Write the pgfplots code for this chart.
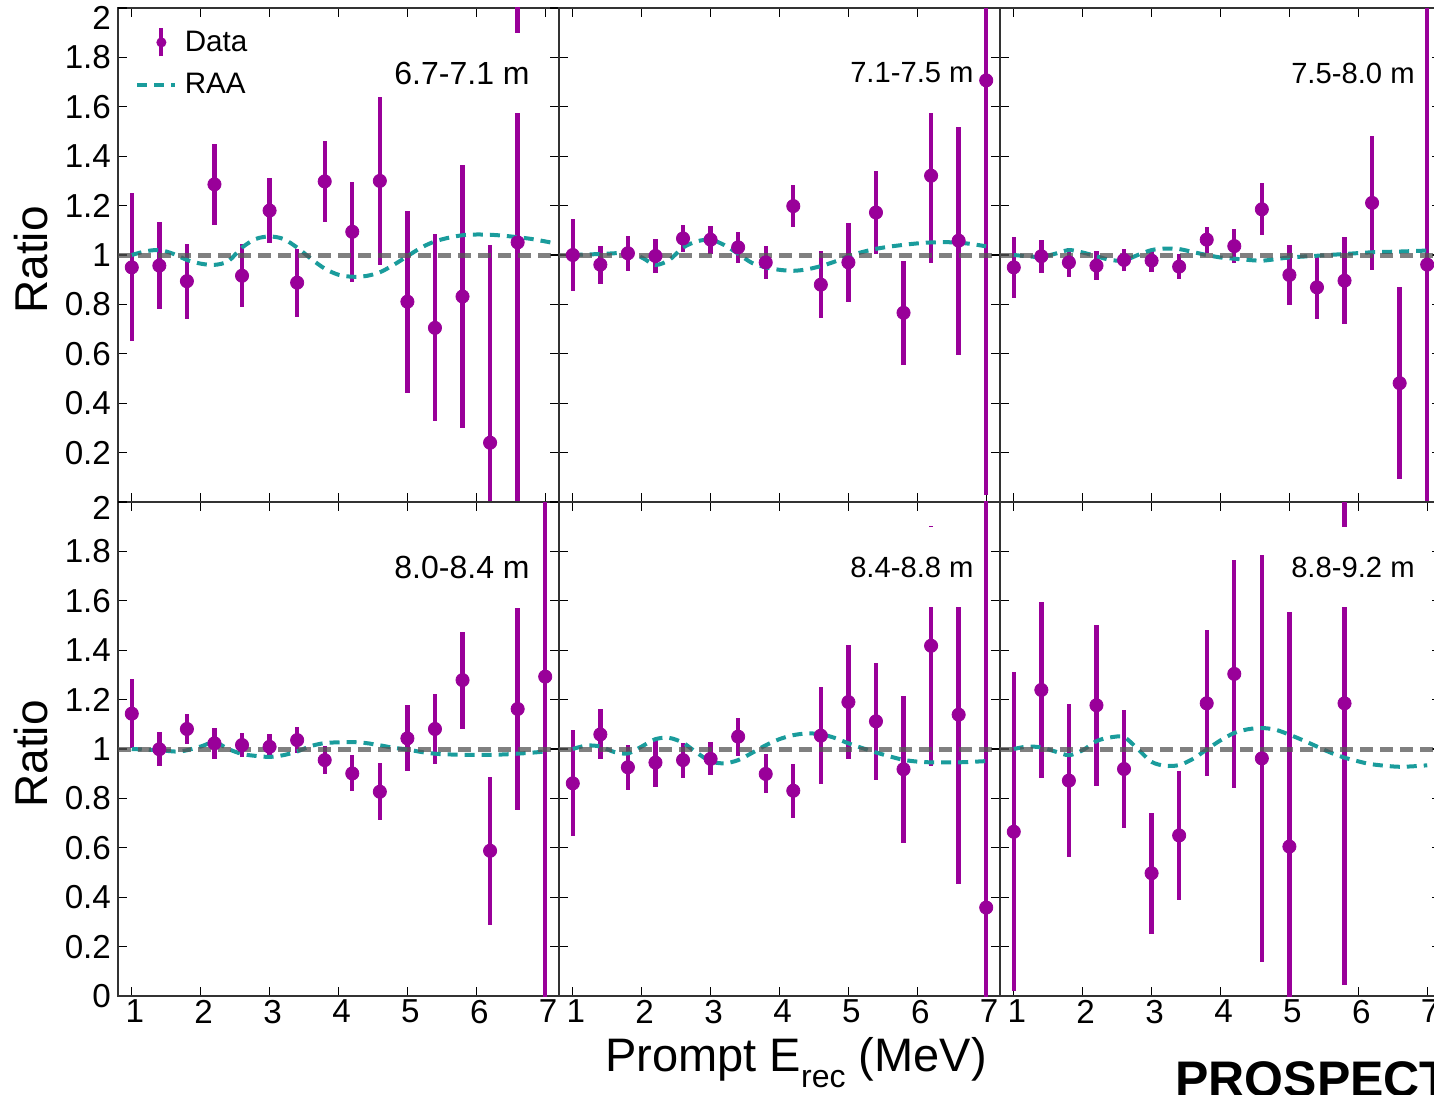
\documentclass[border=0pt]{standalone}
\usepackage{fontspec}
\setmainfont{Liberation Sans}
\usepackage{pgfplots}
\usepackage{pgfplotstable}
\pgfplotsset{compat=1.18}
\usepgfplotslibrary{groupplots}
\usetikzlibrary{calc}

\definecolor{datapurple}{HTML}{990099}
\definecolor{raateal}{HTML}{1A9C9C}
\definecolor{unitygray}{HTML}{555555}

% ratio data: x = prompt energy (MeV), y = ratio, e = error
\pgfplotstableread{
x y e
1.0 0.950 0.300
1.4 0.957 0.177
1.8 0.894 0.152
2.2 1.286 0.164
2.6 0.916 0.128
3.0 1.180 0.133
3.4 0.888 0.137
3.8 1.298 0.165
4.2 1.094 0.203
4.6 1.300 0.340
5.0 0.811 0.368
5.4 0.705 0.379
5.8 0.832 0.534
6.2 0.240 0.800
6.6 1.051 1.100
}\dataA
\pgfplotstableread{
x y e
1.0 1.000 0.145
1.4 0.961 0.077
1.8 1.007 0.070
2.2 0.996 0.070
2.6 1.067 0.055
3.0 1.062 0.057
3.4 1.031 0.064
3.8 0.970 0.068
4.2 1.198 0.085
4.6 0.880 0.137
5.0 0.970 0.160
5.4 1.172 0.168
5.8 0.766 0.210
6.2 1.321 0.355
6.6 1.058 0.462
7.0 1.707 1.680
}\dataB
\pgfplotstableread{
x y e
1.0 0.950 0.123
1.4 0.995 0.066
1.8 0.970 0.059
2.2 0.957 0.059
2.6 0.980 0.045
3.0 0.977 0.044
3.4 0.953 0.050
3.8 1.062 0.052
4.2 1.036 0.070
4.6 1.185 0.105
5.0 0.919 0.120
5.4 0.869 0.129
5.8 0.896 0.175
6.2 1.211 0.272
6.6 0.481 0.388
7.0 0.961 1.300
}\dataC
\pgfplotstableread{
x y e
1.0 1.143 0.140
1.4 0.999 0.069
1.8 1.081 0.061
2.2 1.023 0.064
2.6 1.016 0.047
3.0 1.009 0.050
3.4 1.036 0.053
3.8 0.955 0.057
4.2 0.901 0.073
4.6 0.827 0.116
5.0 1.043 0.134
5.4 1.081 0.142
5.8 1.279 0.196
6.2 0.588 0.299
6.6 1.162 0.410
7.0 1.293 1.400
}\dataD
\pgfplotstableread{
x y e
1.0 0.861 0.214
1.4 1.059 0.101
1.8 0.926 0.090
2.2 0.945 0.098
2.6 0.955 0.071
3.0 0.960 0.067
3.4 1.050 0.077
3.8 0.899 0.079
4.2 0.831 0.109
4.6 1.054 0.196
5.0 1.190 0.231
5.4 1.112 0.238
5.8 0.918 0.297
6.2 1.418 0.485
6.6 1.139 0.687
7.0 0.358 1.800
}\dataE
\pgfplotstableread{
x y e
1.0 0.665 0.645
1.4 1.239 0.355
1.8 0.872 0.310
2.2 1.177 0.325
2.6 0.919 0.240
3.0 0.497 0.245
3.4 0.650 0.260
3.8 1.185 0.296
4.2 1.304 0.462
4.6 0.962 0.825
5.0 0.605 0.950
5.8 1.185 1.140
}\dataF

% RAA prediction curves
\pgfplotstableread{
x y
1.0 1.000
1.2 1.015
1.4 1.020
1.6 1.005
1.8 0.980
2.0 0.965
2.2 0.960
2.4 0.975
2.6 1.030
2.8 1.065
3.0 1.075
3.2 1.065
3.4 1.030
3.6 0.985
3.8 0.945
4.0 0.920
4.2 0.912
4.4 0.915
4.6 0.930
4.8 0.960
5.0 0.995
5.2 1.030
5.4 1.055
5.6 1.070
5.8 1.080
6.0 1.083
6.2 1.082
6.4 1.078
6.6 1.072
6.8 1.065
7.0 1.055
7.15 1.047
}\raaA
\pgfplotstableread{
x y
1.0 1.000
1.4 1.004
1.8 1.008
2.0 0.990
2.2 0.960
2.4 0.980
2.6 1.030
2.8 1.055
3.0 1.062
3.2 1.040
3.4 1.005
3.6 0.968
3.8 0.950
4.0 0.940
4.2 0.936
4.4 0.942
4.6 0.955
4.8 0.973
5.0 0.995
5.2 1.012
5.4 1.025
5.6 1.034
5.8 1.041
6.0 1.047
6.2 1.051
6.4 1.052
6.6 1.050
6.8 1.044
7.0 1.035
}\raaB
\pgfplotstableread{
x y
1.0 1.000
1.2 0.995
1.4 0.992
1.6 1.005
1.8 1.020
2.0 1.010
2.2 0.995
2.4 0.980
2.6 0.978
2.8 1.000
3.0 1.020
3.2 1.026
3.4 1.024
3.6 1.012
3.8 1.000
4.0 0.990
4.2 0.985
4.4 0.980
4.6 0.977
4.8 0.983
5.0 0.990
5.4 0.997
5.8 1.004
6.2 1.011
6.6 1.014
7.0 1.018
}\raaC
\pgfplotstableread{
x y
1.0 1.000
1.4 0.995
1.7 0.990
2.0 1.010
2.2 1.028
2.4 1.000
2.6 0.980
2.8 0.972
3.0 0.968
3.2 0.975
3.4 0.990
3.6 1.012
3.8 1.024
4.0 1.027
4.2 1.028
4.4 1.024
4.6 1.015
4.8 1.005
5.0 0.998
5.2 0.988
5.4 0.981
5.6 0.978
6.0 0.976
6.4 0.978
6.8 0.985
7.0 0.990
}\raaD
\pgfplotstableread{
x y
1.0 1.000
1.2 1.014
1.4 1.010
1.6 0.988
1.8 0.982
2.0 1.010
2.2 1.040
2.4 1.045
2.6 1.025
2.8 0.985
3.0 0.950
3.2 0.942
3.4 0.955
3.6 0.984
3.8 1.015
4.0 1.040
4.2 1.056
4.4 1.063
4.6 1.060
4.8 1.045
5.0 1.023
5.2 1.004
5.4 0.986
5.6 0.970
5.8 0.956
6.0 0.949
6.2 0.946
6.6 0.946
7.0 0.951
}\raaE
\pgfplotstableread{
x y
1.0 1.000
1.2 1.010
1.4 1.006
1.6 0.990
1.8 0.975
2.0 0.995
2.2 1.032
2.4 1.047
2.6 1.048
2.8 1.000
3.0 0.948
3.2 0.932
3.4 0.935
3.6 0.960
3.8 0.998
4.0 1.035
4.2 1.065
4.4 1.080
4.6 1.085
4.8 1.078
5.0 1.058
5.2 1.035
5.4 1.010
5.6 0.985
5.8 0.965
6.0 0.950
6.2 0.938
6.6 0.928
7.0 0.934
}\raaF

\pgfplotsset{
  datapts/.style={only marks, mark=*, mark size=3.3pt, color=datapurple,
    error bars/y dir=both, error bars/y explicit, error bars/error mark=none,
    error bars/error bar style={line width=2.2pt, datapurple}},
  raa/.style={smooth, no markers, color=raateal, line width=2pt,
    dash pattern=on 5pt off 3.5pt},
  unity/.style={forget plot, color=unitygray, opacity=0.75, line width=2.5pt,
    dash pattern=on 6.5pt off 3.5pt},
  datalegend/.style={legend image code/.code={
    \path (0pt,0pt) (21.5pt,0pt);
    \draw[datapurple, line width=2pt] (12pt,-7pt) -- (12pt,7pt);
    \fill[datapurple] (12pt,0pt) circle (2.3pt);}},
  raalegend/.style={legend image code/.code={
    \draw[raateal, line width=2pt, dash pattern=on 5pt off 3.5pt] (0pt,0pt) -- (19pt,0pt);}},
}
\tikzset{
  panlab/.style={anchor=east, fill=white, inner xsep=3pt, minimum height=40pt,
    font=\fontsize{14.6}{14.6}\selectfont, xshift=-10pt, yshift=-32.5pt},
}

\begin{document}
\begin{tikzpicture}
\begin{groupplot}[
  group style={group size=3 by 2, horizontal sep=0pt, vertical sep=0pt,
    xticklabels at=edge bottom, yticklabels at=edge left},
  scale only axis, width=220.5pt, height=247pt,
  xmin=0.8, xmax=7.2, ymin=0, ymax=2,
  xtick={1,2,3,4,5,6,7},
  ytick={0,0.2,0.4,0.6,0.8,1,1.2,1.4,1.6,1.8,2},
  tick align=inside, tick pos=both,
  xticklabel pos=lower, yticklabel pos=left,
  major tick length=4.5pt,
  every tick/.style={line width=0.6pt, black},
  axis line style={line width=0.8pt, black!80},
  /pgf/number format/assume math mode=true,
  tick label style={font=\fontsize{16.6}{16.6}\selectfont},
  xticklabel style={xshift=1.5pt, yshift=1.5pt},
  ylabel style={at={(axis description cs:-0.197,0.49)}, anchor=center,
    font=\fontsize{23}{23}\selectfont},
]
\nextgroupplot[
  ytick={0.2,0.4,0.6,0.8,1,1.2,1.4,1.6,1.8},
  extra y ticks={2}, extra y tick style={yticklabel style={yshift=-5pt}},
  ylabel={Ratio},
  legend style={at={(axis description cs:0,1)}, anchor=north west,
    draw=none, fill=none, inner sep=0pt, xshift=8.5pt, yshift=-9pt,
    row sep=5.5pt, font=\fontsize{14.8}{14.8}\selectfont},
  legend cell align=left,
]
\addplot[datapts, datalegend] table[x=x, y=y, y error=e] {\dataA};
\addlegendentry{Data}
\addplot[raa, raalegend] table[x=x, y=y] {\raaA};
\addlegendentry{RAA}
\addplot[unity] coordinates {(0.8,1) (7.2,1)};
\node[panlab, font=\fontsize{16}{16}\selectfont, xshift=-1.5pt] at (rel axis cs:1,1) {6.7-7.1 m};

\nextgroupplot
\addplot[datapts] table[x=x, y=y, y error=e] {\dataB};
\addplot[raa] table[x=x, y=y] {\raaB};
\addplot[unity] coordinates {(0.8,1) (7.2,1)};
\node[panlab] at (rel axis cs:1,1) {7.1-7.5 m};

\nextgroupplot
\addplot[datapts] table[x=x, y=y, y error=e] {\dataC};
\addplot[raa] table[x=x, y=y] {\raaC};
\addplot[unity] coordinates {(0.8,1) (7.2,1)};
\node[panlab] at (rel axis cs:1,1) {7.5-8.0 m};

\nextgroupplot[
  ytick={0,0.2,0.4,0.6,0.8,1,1.2,1.4,1.6,1.8},
  extra y ticks={2}, extra y tick style={yticklabel style={yshift=-3pt}},
  ylabel={Ratio},
]
\addplot[datapts] table[x=x, y=y, y error=e] {\dataD};
\addplot[raa] table[x=x, y=y] {\raaD};
\addplot[unity] coordinates {(0.8,1) (7.2,1)};
\node[panlab, font=\fontsize{16}{16}\selectfont, xshift=-1.5pt] at (rel axis cs:1,1) {8.0-8.4 m};

\nextgroupplot
\addplot[datapts] table[x=x, y=y, y error=e] {\dataE};
\addplot[raa] table[x=x, y=y] {\raaE};
\addplot[unity] coordinates {(0.8,1) (7.2,1)};
\node[panlab] at (rel axis cs:1,1) {8.4-8.8 m};

\nextgroupplot
\addplot[datapts] table[x=x, y=y, y error=e] {\dataF};
\addplot[raa] table[x=x, y=y] {\raaF};
\addplot[unity] coordinates {(0.8,1) (7.2,1)};
\node[panlab] at (rel axis cs:1,1) {8.8-9.2 m};
\end{groupplot}

\coordinate (O) at ($(group c1r1.north west)+(-59pt,4pt)$);
\node[anchor=base, font=\fontsize{23.5}{23.5}\selectfont]
  at ($(O)+(398pt,-535.5pt)$) {Prompt E\raisebox{-8pt}{\fontsize{16}{16}\selectfont rec} (MeV)};
\node[anchor=base west, font=\bfseries\fontsize{25}{25}\selectfont, inner sep=0pt]
  at ($(O)+(587.5pt,-548pt)$) {PROSPECT};

\pgfresetboundingbox
\path[use as bounding box] (O) rectangle ++(717pt,-547pt);
\end{tikzpicture}
\end{document}
